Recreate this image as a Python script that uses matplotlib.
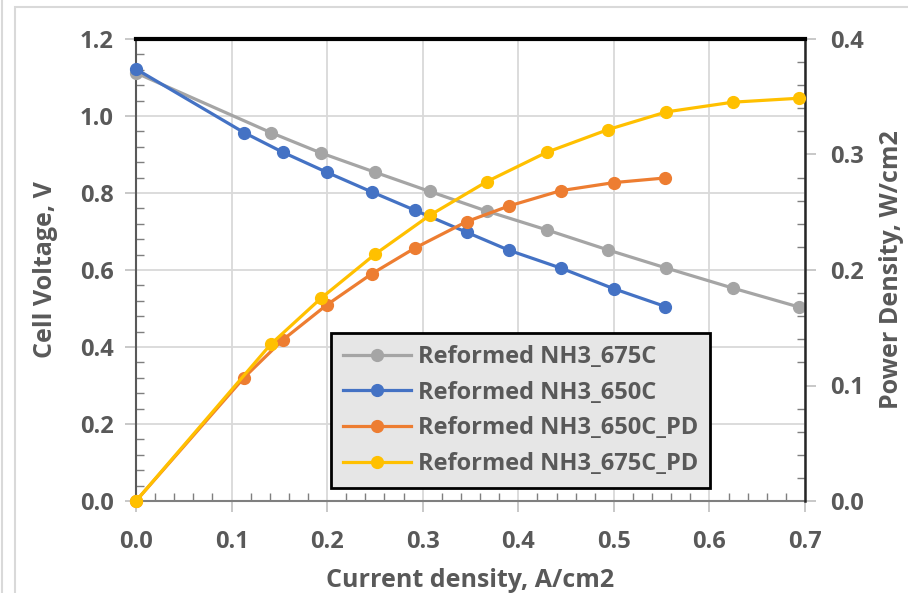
import matplotlib.pyplot as plt
from matplotlib.lines import Line2D
from matplotlib.patches import Rectangle
from matplotlib.ticker import MultipleLocator

plt.rcParams["font.family"] = ["Open Sans", "DejaVu Sans"]
plt.rcParams["font.weight"] = "bold"

# current density, A/cm2
i_675 = [0.0, 0.141, 0.1935, 0.25, 0.3075, 0.367, 0.43, 0.494, 0.555, 0.6245, 0.6935]
v_675 = [1.112, 0.957, 0.904, 0.854, 0.804, 0.753, 0.704, 0.652, 0.605, 0.553, 0.504]
pd_675 = [0.0, 0.1357, 0.1755, 0.2136, 0.2474, 0.2765, 0.302, 0.3216, 0.3369, 0.3453, 0.3487]

i_650 = [0.0, 0.113, 0.1535, 0.1995, 0.2465, 0.292, 0.346, 0.3905, 0.4445, 0.5003, 0.554]
v_650 = [1.122, 0.957, 0.906, 0.854, 0.803, 0.755, 0.698, 0.651, 0.605, 0.551, 0.505]
pd_650 = [0.0, 0.1068, 0.1394, 0.1697, 0.1966, 0.2191, 0.2419, 0.2555, 0.2687, 0.2757, 0.2797]

labels = ["Reformed NH3_675C", "Reformed NH3_650C",
          "Reformed NH3_650C_PD", "Reformed NH3_675C_PD"]
colors = ["#A5A5A5", "#4472C4", "#ED7D31", "#FFC000"]

txt = "#595959"
fs = 17
fig = plt.figure(figsize=(9.08, 5.93), dpi=100)
ax = fig.add_axes([136 / 908, 1 - 501 / 593, (805 - 136) / 908, (501 - 39) / 593])
ax2 = ax.twinx()

# chart area frame like the spreadsheet screenshot
fig.patches.append(Rectangle((15 / 908, -0.1), 1.2, 1 - 7 / 593 + 0.1, transform=fig.transFigure,
                             fill=False, edgecolor="#D9D9D9", lw=1.5))
fig.add_artist(Line2D([2 / 908, 2 / 908], [0, 1], transform=fig.transFigure, color="#D9D9D9", lw=1.5))

kw = dict(lw=2.3, marker="o", ms=8.5, clip_on=False)
ax.plot(i_675, v_675, color=colors[0], zorder=3, **kw)
ax.plot(i_650, v_650, color=colors[1], zorder=4, **kw)
ax2.plot(i_650, pd_650, color=colors[2], zorder=3, **kw)
ax2.plot(i_675, pd_675, color=colors[3], zorder=4, **kw)

ax.set_xlim(0, 0.7)
ax.set_ylim(0, 1.2)
ax2.set_ylim(0, 0.4)
ax.xaxis.set_major_locator(MultipleLocator(0.1))
ax.xaxis.set_minor_locator(MultipleLocator(0.02))
ax.yaxis.set_major_locator(MultipleLocator(0.2))
ax.yaxis.set_minor_locator(MultipleLocator(0.04))
ax2.yaxis.set_major_locator(MultipleLocator(0.1))
ax2.yaxis.set_minor_locator(MultipleLocator(0.02))
ax.xaxis.set_major_formatter("{x:.1f}")
ax.yaxis.set_major_formatter("{x:.1f}")
ax2.yaxis.set_major_formatter("{x:.1f}")

ax.grid(True, which="major", color="#D9D9D9", lw=1.3)
ax.set_axisbelow(True)

for a in (ax, ax2):
    a.tick_params(which="major", direction="out", length=8, width=1.2, color="#BFBFBF",
                  labelsize=fs, labelcolor=txt, pad=6)
    a.tick_params(which="minor", direction="in", length=6, width=1, color="#7F7F7F")
    for s in a.spines.values():
        s.set_visible(False)
ax.spines["left"].set_visible(True)
ax.spines["left"].set_color("#595959")
ax.spines["left"].set_linewidth(1.5)
ax.spines["bottom"].set_visible(True)
ax.spines["bottom"].set_color("#7F7F7F")
ax.spines["bottom"].set_linewidth(1.5)
ax2.spines["right"].set_visible(True)
ax2.spines["right"].set_color("#262626")
ax2.spines["right"].set_linewidth(1.8)
ax2.spines["top"].set_visible(True)
ax2.spines["top"].set_color("black")
ax2.spines["top"].set_linewidth(3)
ax.tick_params(axis="x", pad=13)
ax.tick_params(axis="y", pad=8)
ax2.tick_params(axis="y", pad=10)

ax.set_xlabel("Current density, A/cm2", fontsize=18, color=txt, fontweight="bold", va="baseline")
ax.set_ylabel("Cell Voltage, V", fontsize=18, color=txt, fontweight="bold", va="center")
ax2.set_ylabel("Power Density, W/cm2", fontsize=18, color=txt, fontweight="bold", va="center")
ax.xaxis.set_label_coords(0.499, -0.186)
ax.yaxis.set_label_coords(-0.136, 0.5)
ax2.yaxis.set_label_coords(1.13, 0.5)

handles = [Line2D([], [], color=c, lw=2.3, marker="o", ms=8.5) for c in colors]
leg = ax2.legend(handles, labels, loc="upper left", bbox_to_anchor=((331 - 136) / 669, (501 - 333) / 462),
                 fontsize=fs, labelcolor=txt, frameon=True, fancybox=False, framealpha=1,
                 facecolor="#E6E6E6", edgecolor="black", handlelength=2.9, handletextpad=0.3,
                 borderpad=0.5, labelspacing=0.5, borderaxespad=0)
leg.get_frame().set_linewidth(2)
leg.set_zorder(10)

fig.savefig("out.png", dpi=100)
